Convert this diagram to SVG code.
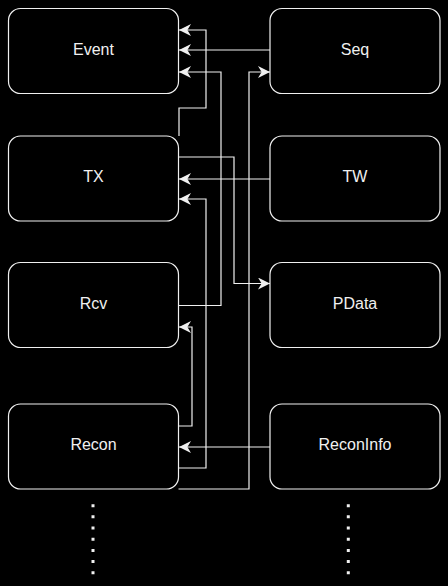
<svg xmlns="http://www.w3.org/2000/svg" width="448" height="586" viewBox="0 0 448 586">
<style>
.box{fill:#000;stroke:#f0f0f0;stroke-width:1.2}
.lbl{fill:#f0f0f0;font-family:"Liberation Sans",Arial,sans-serif;font-size:16px;text-anchor:middle}
.edge{fill:none;stroke:#f0f0f0;stroke-width:1.2}
.dots{stroke:#f0f0f0;stroke-width:3;stroke-dasharray:3 8.17}
</style>
<defs>
<marker id="arr" markerUnits="userSpaceOnUse" markerWidth="12" markerHeight="12" viewBox="0 0 10 10" refX="10" refY="5" orient="auto">
<path d="M0,0 L10,5 L0,10 L3,5 Z" fill="#f0f0f0"/>
</marker>
</defs>
<rect width="448" height="586" fill="#000"/>
<g id="connectors">
<path class="edge" marker-end="url(#arr)" d="M179,136 V108 H206 V30 H179"/>
<path class="edge" marker-end="url(#arr)" d="M270,50 H179"/>
<path class="edge" marker-end="url(#arr)" d="M178.5,305.5 H221 V72 H179"/>
<path class="edge" marker-end="url(#arr)" d="M178.5,489 H249 V72 H270"/>
<path class="edge" marker-end="url(#arr)" d="M178.5,157 H234 V283.5 H270"/>
<path class="edge" marker-end="url(#arr)" d="M270,179 H179"/>
<path class="edge" marker-end="url(#arr)" d="M178.5,468 H206 V199 H179"/>
<path class="edge" marker-end="url(#arr)" d="M178.5,426 H192 V327 H179"/>
<path class="edge" marker-end="url(#arr)" d="M270,447 H179"/>
</g>
<g id="event"><rect class="box" x="8.5" y="8.5" width="170" height="85" rx="12"/><text class="lbl" x="93.5" y="54.5">Event</text></g>
<g id="tx"><rect class="box" x="8.5" y="136" width="170" height="85" rx="12"/><text class="lbl" x="93.5" y="182.3">TX</text></g>
<g id="rcv"><rect class="box" x="8.5" y="262.5" width="170" height="85" rx="12"/><text class="lbl" x="93.5" y="308.8">Rcv</text></g>
<g id="recon"><rect class="box" x="8.5" y="404" width="170" height="85" rx="12"/><text class="lbl" x="93.5" y="450.3">Recon</text></g>
<g id="seq"><rect class="box" x="270" y="8.5" width="170" height="85" rx="12"/><text class="lbl" x="355" y="54.5">Seq</text></g>
<g id="tw"><rect class="box" x="270" y="136" width="170" height="85" rx="12"/><text class="lbl" x="355" y="182.3">TW</text></g>
<g id="pdata"><rect class="box" x="270" y="262.5" width="170" height="85" rx="12"/><text class="lbl" x="355" y="308.8">PData</text></g>
<g id="reconinfo"><rect class="box" x="270" y="404" width="170" height="85" rx="12"/><text class="lbl" x="355" y="450.3">ReconInfo</text></g>
<g id="more-left"><line class="dots" x1="93" y1="504.2" x2="93" y2="575"/></g>
<g id="more-right"><line class="dots" x1="348.3" y1="504.2" x2="348.3" y2="575"/></g>
</svg>
